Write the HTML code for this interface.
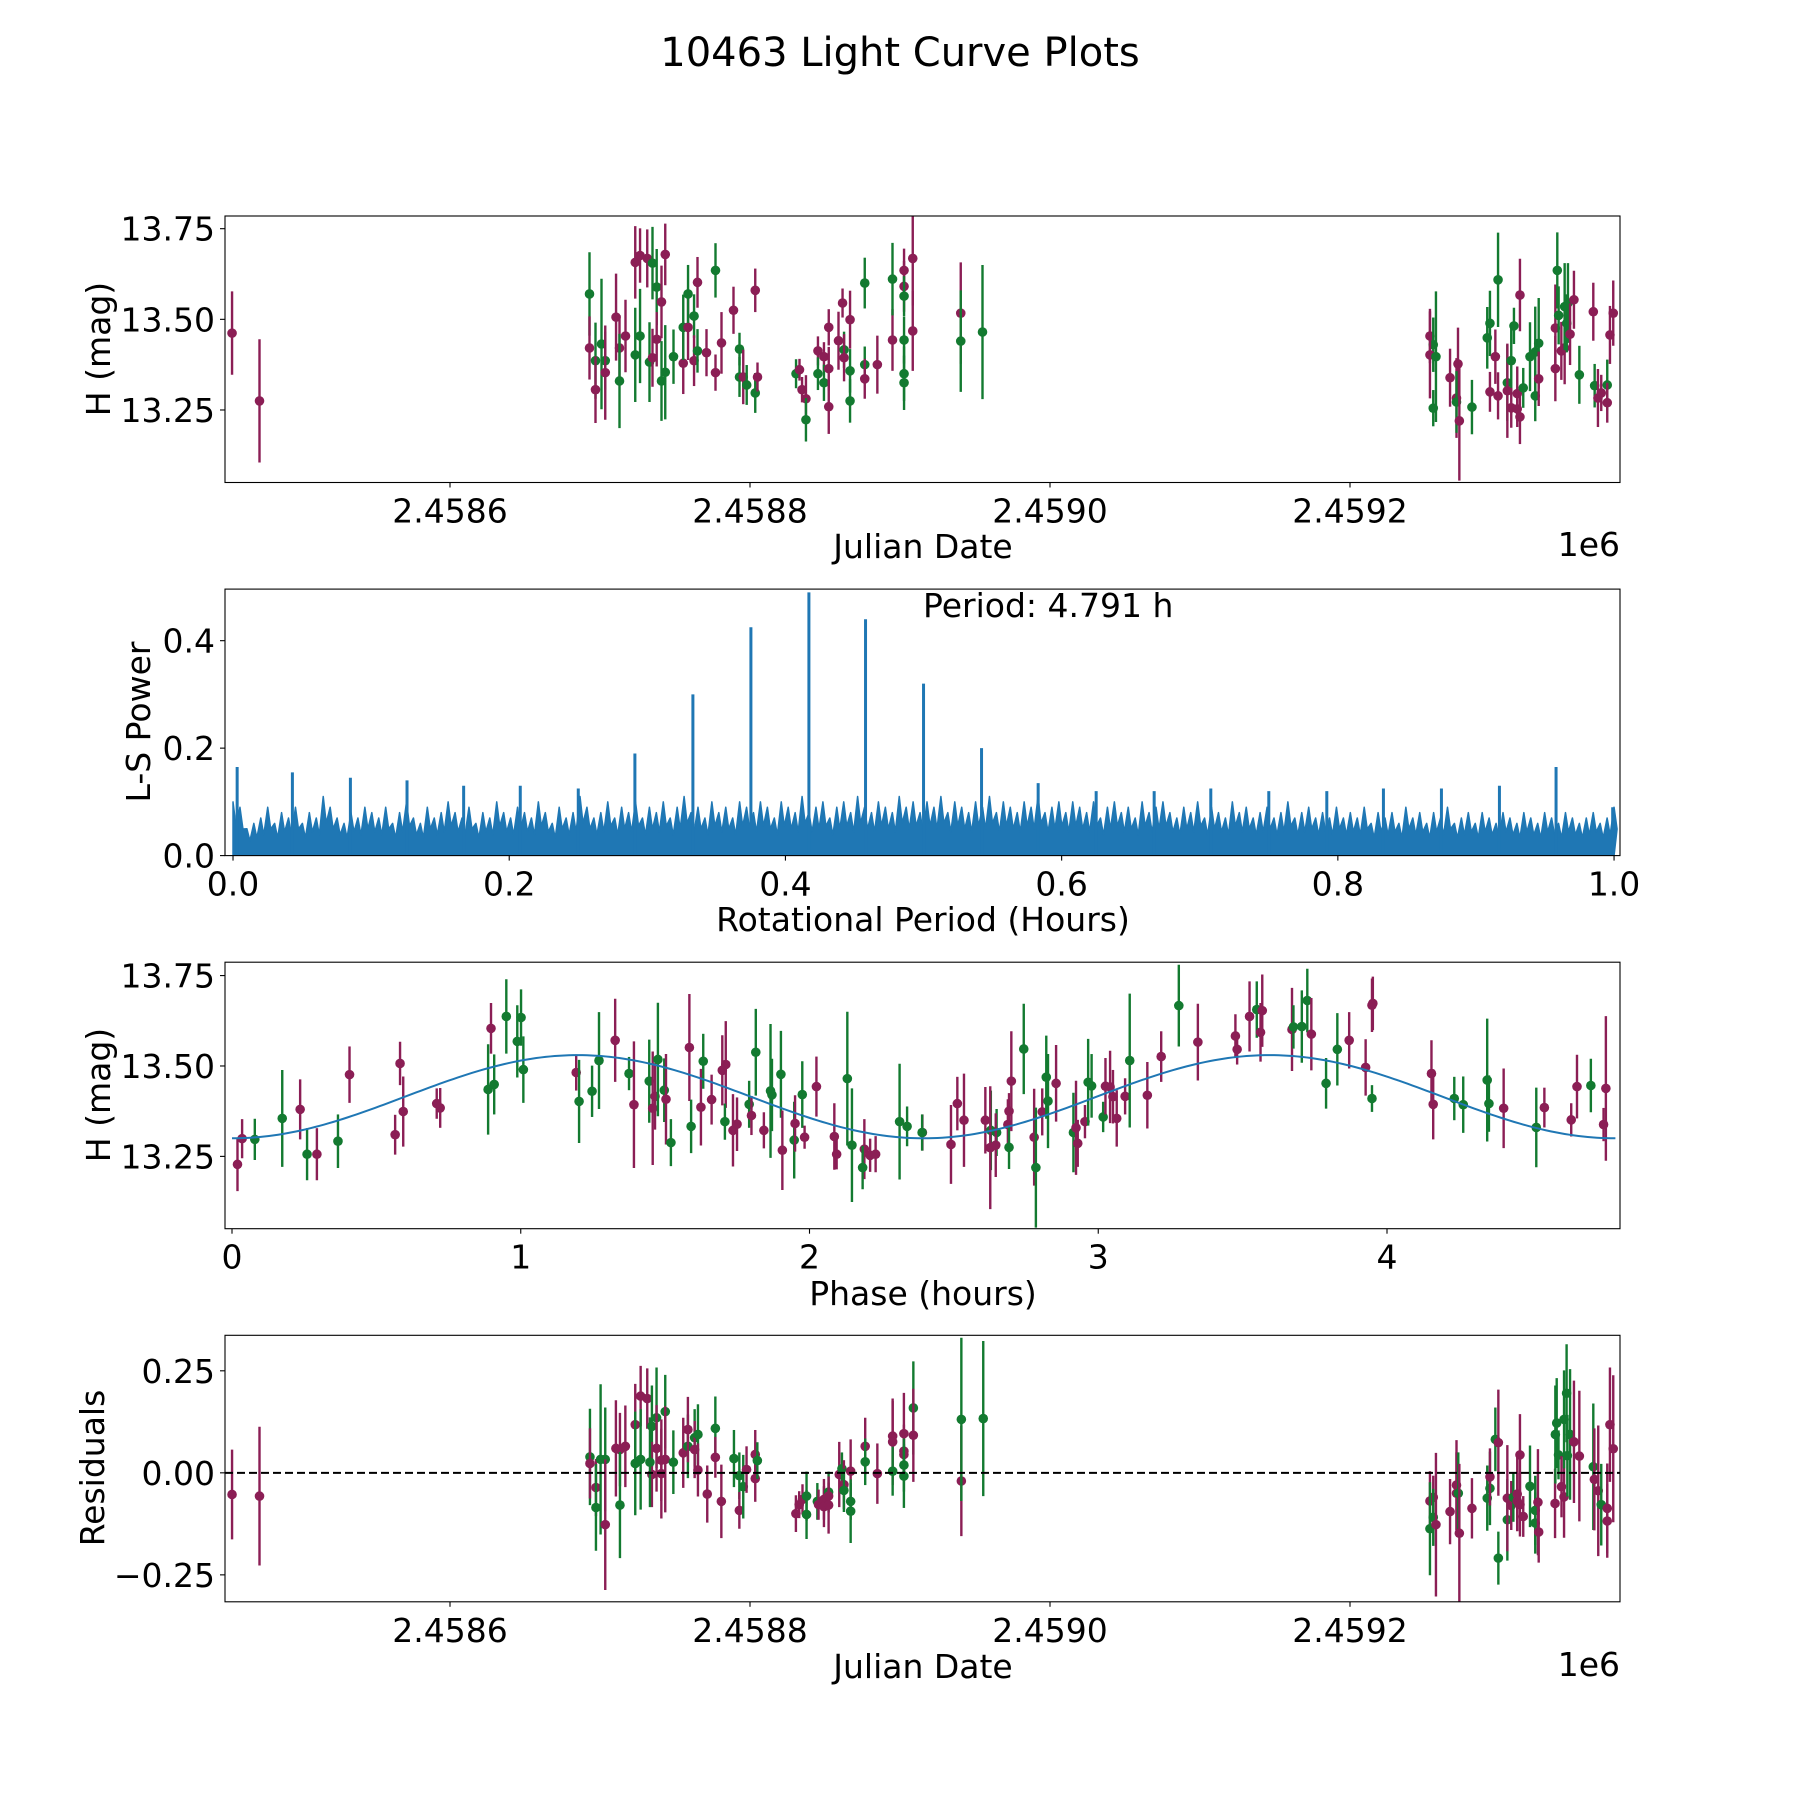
<!DOCTYPE html>
<html><head><meta charset="utf-8"><style>
html,body{margin:0;padding:0;background:#fff;}
svg{display:block;font-family:"DejaVu Sans","Liberation Sans",sans-serif;}
</style></head><body>
<svg id="fig" width="1800" height="1800" viewBox="0 0 1800 1800" xmlns="http://www.w3.org/2000/svg">
<rect x="0" y="0" width="1800" height="1800" fill="#fff"/>
<text x="900" y="66" font-size="40" text-anchor="middle">10463 Light Curve Plots</text>
</svg>
<script>
// ---------- data ----------
const lcJD = [2458454.7,2458473,2458693,2458693,2458697,2458697,2458701,2458703.5,2458703.5,2458710.7,2458713,2458713,2458717,2458723.5,2458723.5,2458726.7,2458726.7,2458731.5,2458733,2458735,2458735,2458737.8,2458737.8,2458741,2458741,2458743.5,2458743.5,2458749,2458755.5,2458755.5,2458758.7,2458758.7,2458762.7,2458762.7,2458765,2458765,2458771,2458777,2458777,2458781,2458789,2458793,2458793,2458795.5,2458797.8,2458803.5,2458803.5,2458805,2458830.7,2458833,2458834.7,2458837.3,2458837.3,2458845.3,2458845.3,2458849.3,2458849.3,2458852.5,2458852.5,2458852.5,2458859,2458861.7,2458862.7,2458862.7,2458866.7,2458866.7,2458866.7,2458876.5,2458876.5,2458876.5,2458884.9,2458895,2458895,2458902.7,2458902.7,2458902.7,2458902.7,2458902.7,2458902.7,2458908.5,2458908.5,2458940.5,2458940.5,2458955,2459253.3,2459255.5,2459253.3,2459255.5,2459257.3,2459266.7,2459272,2459271,2459271,2459272.9,2459281.3,2459291.5,2459293.3,2459293.3,2459296.9,2459298.7,2459298.7,2459304.9,2459304.9,2459307.5,2459307.5,2459309.3,2459311.5,2459311.5,2459313.3,2459315.5,2459313.3,2459323.5,2459320,2459323.5,2459325.8,2459325.8,2459336.9,2459336.9,2459338.2,2459339.1,2459340.9,2459343.1,2459343.1,2459344.5,2459345.3,2459346.7,2459349.3,2459352.9,2459362.2,2459363.1,2459365.3,2459367.5,2459371.5,2459371.5,2459373.3,2459375.5];
const lcMag = [13.462,13.275,13.570,13.421,13.386,13.306,13.432,13.386,13.353,13.506,13.421,13.330,13.454,13.657,13.402,13.676,13.454,13.668,13.382,13.655,13.394,13.589,13.445,13.548,13.330,13.679,13.354,13.397,13.379,13.478,13.478,13.570,13.509,13.386,13.413,13.602,13.408,13.353,13.635,13.435,13.525,13.418,13.341,13.341,13.319,13.297,13.580,13.341,13.350,13.361,13.306,13.281,13.223,13.413,13.350,13.397,13.325,13.478,13.364,13.259,13.441,13.545,13.416,13.394,13.499,13.358,13.275,13.600,13.375,13.336,13.375,13.443,13.611,13.635,13.591,13.564,13.443,13.350,13.325,13.668,13.468,13.517,13.440,13.465,13.454,13.430,13.402,13.255,13.397,13.339,13.377,13.283,13.272,13.220,13.258,13.449,13.489,13.300,13.397,13.609,13.289,13.325,13.303,13.386,13.256,13.482,13.295,13.253,13.231,13.311,13.567,13.289,13.397,13.410,13.434,13.336,13.364,13.476,13.635,13.511,13.413,13.421,13.535,13.489,13.545,13.459,13.554,13.347,13.521,13.317,13.283,13.297,13.319,13.270,13.457,13.517];
const lcErr = [.115,.17,.115,.087,.105,.092,.18,.08,.13,.12,.09,.13,.1,.1,.13,.075,.13,.08,.11,.1,.08,.105,.075,.1,.11,.085,.13,.075,.085,.09,.09,.08,.06,.07,.06,.07,.065,.05,.075,.085,.065,.045,.055,.075,.055,.055,.06,.04,.04,.03,.035,.065,.06,.04,.045,.04,.05,.05,.06,.075,.08,.04,.05,.065,.08,.06,.06,.07,.05,.055,.08,.085,.1,.06,.07,.055,.065,.075,.075,.13,.11,.14,.14,.185,.075,.075,.12,.05,.18,.08,.1,.11,.085,.165,.075,.085,.09,.055,.075,.13,.065,.105,.13,.09,.055,.05,.075,.05,.075,.055,.1,.07,.095,.125,.125,.075,.09,.12,.105,.08,.08,.1,.12,.08,.11,.085,.08,.08,.08,.06,.08,.05,.07,.055,.08,.09];
const lcBand = "mmgmgmggmmmgmmgmgmggmgmmgmggmgmggmgmmmgmmggmggmmgmmmgmgmgmmmmmgmmggggmmmgmmggggmmmggmgmggmmmgmgggmmgmgmgmgmmmgmggggmmmggmmgggmmgmgmmgmmm".split("");

const phase = [.019,.035,.079,.174,.236,.260,.294,.367,.407,.565,.582,.593,.709,.721,.887,.897,.908,.950,.988,1.001,1.009,1.192,1.202,1.247,1.271,1.327,1.375,1.392,1.445,1.465,1.457,1.475,1.497,1.503,1.520,1.584,1.590,1.624,1.632,1.661,1.698,1.710,1.707,1.735,1.749,1.791,1.799,1.814,1.842,1.870,1.865,1.901,1.906,1.947,1.950,1.975,1.983,2.024,2.086,2.094,2.131,2.147,2.190,2.184,2.210,2.229,2.312,2.338,2.391,2.390,2.490,2.512,2.535,2.609,2.628,2.626,2.648,2.645,2.687,2.691,2.691,2.699,2.742,2.806,2.778,2.784,2.820,2.826,2.854,2.914,2.929,2.923,2.954,2.965,2.977,3.017,3.025,3.041,3.051,3.064,3.093,3.109,3.170,3.218,3.279,3.345,3.475,3.481,3.524,3.549,3.568,3.562,3.671,3.676,3.705,3.724,3.738,3.789,3.828,3.869,3.926,3.948,3.951,3.948,4.154,4.160,4.233,4.264,4.347,4.353,4.404,4.517,4.545,4.638,4.658,4.706,4.758,4.750];
const phaseMag = [13.228,13.299,13.297,13.355,13.380,13.256,13.256,13.292,13.476,13.310,13.507,13.374,13.396,13.384,13.435,13.604,13.449,13.637,13.568,13.634,13.490,13.482,13.402,13.430,13.515,13.571,13.479,13.393,13.458,13.416,13.383,13.518,13.433,13.408,13.288,13.551,13.333,13.386,13.513,13.407,13.488,13.504,13.346,13.322,13.339,13.394,13.363,13.538,13.322,13.420,13.431,13.477,13.267,13.295,13.341,13.421,13.303,13.443,13.305,13.256,13.465,13.281,13.270,13.219,13.253,13.256,13.346,13.333,13.316,13.316,13.283,13.396,13.350,13.350,13.322,13.274,13.316,13.281,13.338,13.375,13.275,13.458,13.547,13.373,13.303,13.219,13.469,13.403,13.452,13.316,13.286,13.329,13.346,13.455,13.445,13.359,13.444,13.442,13.415,13.355,13.416,13.515,13.419,13.526,13.667,13.566,13.583,13.546,13.637,13.656,13.653,13.593,13.601,13.608,13.609,13.681,13.588,13.452,13.546,13.571,13.496,13.410,13.673,13.668,13.479,13.394,13.410,13.393,13.461,13.396,13.383,13.330,13.385,13.351,13.443,13.446,13.438,13.338];
const phaseErr = [.074,.054,.057,.134,.083,.072,.072,.074,.078,.055,.06,.097,.042,.055,.125,.07,.083,.103,.1,.078,.092,.05,.115,.071,.134,.115,.046,.175,.115,.092,.157,.157,.088,.125,.065,.148,.074,.106,.076,.069,.097,.12,.05,.1,.074,.065,.054,.12,.05,.1,.185,.12,.11,.106,.078,.092,.032,.083,.092,.042,.185,.157,.083,.06,.046,.05,.16,.055,.05,.05,.109,.074,.129,.092,.11,.17,.065,.088,.07,.05,.06,.138,.125,.065,.134,.166,.115,.13,.106,.11,.065,.13,.046,.12,.088,.042,.078,.1,.074,.078,.05,.185,.092,.07,.113,.106,.06,.042,.097,.078,.1,.081,.115,.06,.1,.088,.1,.07,.1,.078,.078,.037,.074,.074,.092,.097,.06,.078,.17,.078,.11,.11,.055,.046,.088,.074,.2,.046];
const phaseBand = "mmggmgmgmmmmmmgmggggg mgggmgmgmmggmgmgmgmmmgmmgmgmgggmgmgmmmmggmgmmggmgmmmmgmgmmmgmgmmgggmgmmmgggmmmmmgmmgmmmmgmmmgggmggmmgmmmmggggmgmmmgmmmmgggmmggggggmgmgm".replace(/ /g,"").split("");

const resJD = [2458454.7,2458473,2458693.3,2458693.3,2458697.3,2458697.3,2458700.4,2458703.5,2458703.5,2458710.6,2458713.3,2458713.3,2458716.9,2458723.5,2458723.5,2458727.1,2458727.1,2458731.5,2458734.6,2458734.6,2458733.3,2458737.7,2458737.7,2458740.9,2458740.9,2458743.5,2458743.5,2458748.9,2458755.5,2458758.6,2458758.6,2458763.1,2458763.1,2458765.3,2458765.3,2458771.5,2458776.9,2458776.9,2458780.9,2458789.3,2458792.9,2458792.9,2458795.5,2458797.7,2458803.5,2458803.5,2458804.9,2458830.6,2458832.8,2458835,2458837.7,2458837.7,2458844.9,2458845.7,2458849.3,2458849.3,2458852.4,2458852.4,2458852.4,2458859.5,2458861.3,2458862.6,2458862.6,2458867.1,2458867.1,2458867.1,2458876.8,2458876.8,2458884.9,2458895.1,2458895.1,2458895.1,2458902.6,2458902.6,2458902.6,2458902.6,2458902.6,2458908.9,2458908.9,2458940.9,2458940.9,2458955.5,2459253.3,2459255.5,2459255.5,2459253.3,2459257.3,2459266.7,2459271,2459271,2459272.2,2459272.9,2459281.3,2459291.5,2459293.3,2459293.3,2459296.9,2459298.9,2459298.9,2459304.9,2459304.9,2459307.5,2459313.3,2459308.9,2459311.5,2459311.5,2459313.3,2459315.5,2459320,2459323.5,2459323.5,2459325.3,2459325.8,2459336.7,2459336.9,2459337.8,2459339,2459341,2459342.7,2459342.7,2459344.4,2459344.9,2459346.7,2459349.3,2459352.9,2459362.2,2459362.9,2459365.5,2459367.5,2459371.5,2459371.5,2459373.3,2459375.5];
const resVal = [-.053,-.057,.039,.023,-.036,-.085,.033,.033,-.127,.060,.057,-.079,.065,.118,.023,.188,.033,.182,.114,-.004,.026,.135,.060,.031,-.002,.150,.033,.026,.049,.065,.106,.086,.057,.094,.007,-.052,.109,.038,-.070,.035,-.007,-.092,-.034,.008,.045,-.014,.030,-.100,-.078,-.065,-.057,-.102,-.070,-.078,-.065,-.083,-.047,-.057,-.079,-.004,.010,-.029,-.043,.004,-.070,-.094,.065,.027,-.002,.090,.076,.004,.096,.053,.045,.019,-.008,.159,.092,-.020,.131,.133,-.069,-.060,-.109,-.137,-.127,-.095,-.050,-.030,-.050,-.148,-.087,-.062,-.038,-.010,.082,.074,-.209,-.115,-.062,-.080,.044,-.060,-.069,-.052,-.078,-.107,-.033,-.092,-.123,-.072,-.145,-.075,.094,.122,.044,-.034,-.059,.131,.195,.042,.094,.076,.041,.015,-.016,-.044,-.078,-.087,-.118,.118,.059];
const resErr = [.11,.17,.118,.086,.07,.106,.184,.127,.16,.118,.09,.13,.1,.1,.127,.074,.123,.074,.1,.08,.11,.123,.106,.1,.11,.09,.13,.078,.086,.078,.08,.07,.07,.074,.065,.07,.078,.05,.09,.07,.057,.045,.078,.057,.06,.057,.045,.045,.033,.037,.06,.06,.045,.037,.05,.05,.05,.033,.07,.08,.04,.06,.053,.078,.045,.078,.07,.057,.074,.086,.106,.06,.1,.065,.06,.065,.078,.114,.114,.135,.2,.19,.073,.053,.07,.114,.176,.08,.1,.11,.1,.17,.074,.08,.09,.07,.078,.13,.065,.1,.13,.06,.1,.06,.074,.09,.078,.05,.1,.085,.075,.13,.075,.085,.12,.11,.06,.075,.1,.12,.12,.1,.16,.15,.16,.155,.125,.16,.1,.11,.09,.14,.18];
const resBand = "mmgmmgggmmmgmmgmgmgmggmmmgmgmgmgmgmmgmmggmgmmmgmmmgggmmmgmmmgmgmggmgmmmgmmmgggmmggmmggmmmmgmmggmgmggmmmgmmmmgggmmmgggmmggggmmgmmgmmm".split("");

const lsNoise = [.10,.09,.05,.06,.07,.09,.06,.08,.07,.09,.06,.08,.07,.11,.09,.07,.06,.08,.07,.09,
.08,.07,.09,.06,.08,.10,.07,.06,.09,.07,.08,.10,.08,.07,.09,.06,.08,.07,.10,.08,
.07,.09,.08,.07,.10,.08,.06,.09,.07,.08,.11,.09,.07,.08,.10,.07,.09,.08,.10,.07,
.09,.08,.10,.07,.09,.11,.08,.09,.07,.10,.08,.09,.07,.10,.09,.08,.10,.09,.07,.10,
.09,.08,.11,.08,.09,.10,.07,.09,.10,.08,.11,.09,.08,.10,.09,.08,.11,.09,.10,.08,
.10,.09,.11,.08,.10,.09,.08,.10,.09,.11,.08,.10,.09,.08,.10,.09,.11,.08,.09,.10,
.08,.10,.09,.08,.10,.07,.09,.10,.08,.09,.07,.10,.08,.09,.10,.08,.07,.09,.08,.10,
.07,.09,.08,.07,.10,.08,.09,.07,.08,.09,.07,.08,.10,.07,.08,.09,.07,.08,.07,.09,
.07,.08,.07,.09,.06,.08,.07,.08,.06,.09,.07,.08,.06,.08,.07,.09,.06,.07,.08,.06,
.08,.07,.06,.08,.07,.06,.08,.07,.06,.08,.07,.06,.08,.07,.06,.07,.08,.06,.07,.09];
const lsPeakPeriod = [.003,.043,.085,.126,.167,.208,.25,.291,.333,.375,.417,.458,.5,.542,.583,.625,.667,.708,.75,.792,.833,.875,.917,.958,.999];
const lsPeakPower = [.165,.155,.145,.14,.13,.13,.125,.19,.30,.425,.49,.44,.32,.20,.135,.12,.12,.125,.12,.12,.125,.125,.13,.165,.09];

const fitPeriodHours = 4.791, fitMean = 13.415, fitAmp = 0.115;

// ---------- layout ----------
const NS = "http://www.w3.org/2000/svg";
const svg = document.getElementById('fig');
const L = 225, AW = 1395, AH = 266.5;
const tops = [216, 589.1, 962.2, 1335.3];
const COL = {m:'#8b1e55', g:'#137a30'};
function mk(tag, attrs, parent){const e=document.createElementNS(NS,tag);for(const k in attrs)e.setAttribute(k,attrs[k]);(parent||svg).appendChild(e);return e;}
function scale(d0,d1,p0,p1){return v=>p0+(v-d0)*(p1-p0)/(d1-d0);}

function axesFrame(i, name){
  const g = mk('g',{});
  
  
  return g;
}
function spines(g,i){
  const r = mk('rect',{x:L,y:tops[i],width:AW,height:AH,fill:'none',stroke:'#000','stroke-width':1.1},g);
  
  
}
function xTicks(g,i,ticks,labels,sx){
  const b = tops[i]+AH;
  ticks.forEach((t,k)=>{
    const x=sx(t);
    mk('line',{x1:x,x2:x,y1:b,y2:b+5,stroke:'#000','stroke-width':1.1},g);
    const tx=mk('text',{x:x,y:b+40,'font-size':33,'text-anchor':'middle'},g);
    tx.textContent=labels[k];
    
    
  });
}
function yTicks(g,i,ticks,labels,sy){
  ticks.forEach((t,k)=>{
    const y=sy(t);
    mk('line',{x1:L-5,x2:L,y1:y,y2:y,stroke:'#000','stroke-width':1.1},g);
    const tx=mk('text',{x:L-10,y:y+12,'font-size':33,'text-anchor':'end'},g);
    tx.textContent=labels[k];
    
    
  });
}
function label(g,txt,x,y,rot,name,anchor){
  const t=mk('text',{x:x,y:y,'font-size':33,'text-anchor':anchor||'middle'},g);
  if(rot) t.setAttribute('transform','rotate(-90 '+x+' '+y+')');
  t.textContent=txt;
  
  
}
function errPoints(g,xs,ys,es,bands,sx,sy,name){
  xs.forEach((xv,k)=>{
    const x=sx(xv), c=COL[bands[k]]||COL.m;
    const ln=mk('line',{x1:x,x2:x,y1:sy(ys[k]-es[k]),y2:sy(ys[k]+es[k]),stroke:c,'stroke-width':2.4},g);
    
    
    const dot=mk('circle',{cx:x,cy:sy(ys[k]),r:4.8,fill:c},g);
    
    
  });
}
function clip(i,id){
  const d=mk('clipPath',{id:id});
  mk('rect',{x:L,y:tops[i],width:AW,height:AH},d);
}

// Panel 1
(function(){
  const i=0, g=axesFrame(i,'light-curve-panel');
  const sx=scale(2458450,2459380,L,L+AW), sy=scale(13.05,13.785,tops[i]+AH,tops[i]);
  clip(i,'c0');
  const pg=mk('g',{'clip-path':'url(#c0)'},g);
  errPoints(pg,lcJD,lcMag,lcErr,lcBand,sx,sy,'light-curve');
  spines(g,i);
  xTicks(g,i,[2458600,2458800,2459000,2459200],['2.4586','2.4588','2.4590','2.4592'],sx);
  yTicks(g,i,[13.25,13.5,13.75],['13.25','13.50','13.75'],sy);
  label(g,'Julian Date',923,558,false,'x-axis-title');
  label(g,'1e6',1620,556,false,'x-offset-text','end');
  label(g,'H (mag)',110,349,true,'y-axis-title');
})();

// Panel 2
(function(){
  const i=1, g=axesFrame(i,'periodogram-panel');
  const sx=scale(-0.0058,1.0043,L,L+AW), sy=scale(0,0.496,tops[i]+AH,tops[i]);
  clip(i,'c1');
  const pg=mk('g',{'clip-path':'url(#c1)'},g);
  let d='M'+sx(0)+' '+sy(0);
  lsNoise.forEach((v,k)=>{d+=' L'+sx(k/(lsNoise.length-1)).toFixed(2)+' '+sy(v).toFixed(2)+' L'+(sx(k/(lsNoise.length-1))+3).toFixed(2)+' '+sy(v*0.55).toFixed(2);});
  d+=' L'+sx(1)+' '+sy(0)+' Z';
  const p=mk('path',{d:d,fill:'#1f77b4',stroke:'#1f77b4','stroke-width':1.5,'stroke-linejoin':'round'},pg);
  
  
  lsPeakPeriod.forEach((pp,k)=>{
    const l=mk('line',{x1:sx(pp),x2:sx(pp),y1:sy(0),y2:sy(lsPeakPower[k]),stroke:'#1f77b4','stroke-width':3},pg);
    
    
  });
  spines(g,i);
  xTicks(g,i,[0,0.2,0.4,0.6,0.8,1.0],['0.0','0.2','0.4','0.6','0.8','1.0'],sx);
  yTicks(g,i,[0,0.2,0.4],['0.0','0.2','0.4'],sy);
  label(g,'Rotational Period (Hours)',923,931,false,'x-axis-title');
  label(g,'L-S Power',150,722,true,'y-axis-title');
  label(g,'Period: 4.791 h',923,617,false,'period-annotation','start');
})();

// Panel 3
(function(){
  const i=2, g=axesFrame(i,'phase-fold-panel');
  const sx=scale(0,4,232,1387), sy=scale(13.05,13.787,tops[i]+AH,tops[i]);
  clip(i,'c2');
  const pg=mk('g',{'clip-path':'url(#c2)'},g);
  errPoints(pg,phase,phaseMag,phaseErr,phaseBand,sx,sy,'phased');
  let d='';
  for(let k=0;k<=300;k++){const ph=fitPeriodHours*k/300;const v=fitMean-fitAmp*Math.cos(4*Math.PI*ph/fitPeriodHours);d+=(k?' L':'M')+sx(ph).toFixed(2)+' '+sy(v).toFixed(2);}
  const c=mk('path',{d:d,fill:'none',stroke:'#1f77b4','stroke-width':2},pg);
  
  
  spines(g,i);
  xTicks(g,i,[0,1,2,3,4],['0','1','2','3','4'],sx);
  yTicks(g,i,[13.25,13.5,13.75],['13.25','13.50','13.75'],sy);
  label(g,'Phase (hours)',923,1305,false,'x-axis-title');
  label(g,'H (mag)',110,1095,true,'y-axis-title');
})();

// Panel 4
(function(){
  const i=3, g=axesFrame(i,'residuals-panel');
  const sx=scale(2458450,2459380,L,L+AW), sy=scale(-0.316,0.337,tops[i]+AH,tops[i]);
  clip(i,'c3');
  const pg=mk('g',{'clip-path':'url(#c3)'},g);
  errPoints(pg,resJD,resVal,resErr,resBand,sx,sy,'residual');
  const z=mk('line',{x1:L,x2:L+AW,y1:sy(0),y2:sy(0),stroke:'#000','stroke-width':2,'stroke-dasharray':'8,4'},pg);
  
  
  spines(g,i);
  xTicks(g,i,[2458600,2458800,2459000,2459200],['2.4586','2.4588','2.4590','2.4592'],sx);
  yTicks(g,i,[-0.25,0,0.25],['\u22120.25','0.00','0.25'],sy);
  label(g,'Julian Date',923,1678,false,'x-axis-title');
  label(g,'1e6',1620,1676,false,'x-offset-text','end');
  label(g,'Residuals',104,1468,true,'y-axis-title');
})();
</script>
</body></html>
